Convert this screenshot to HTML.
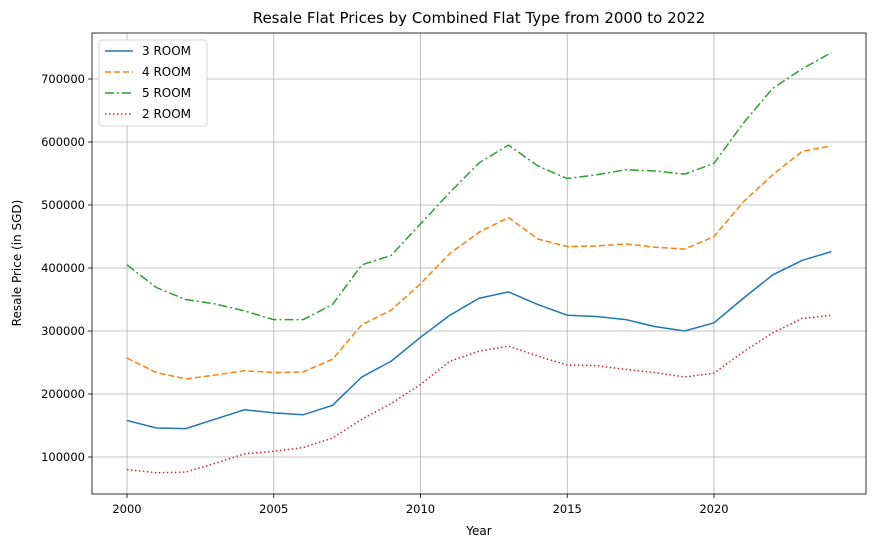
<!DOCTYPE html>
<html><head><meta charset="utf-8"><style>
body{margin:0;background:#fff;font-family:"Liberation Sans","DejaVu Sans",sans-serif;}
svg text{font-family:"DejaVu Sans","Liberation Sans",sans-serif;}
</style></head><body>
<svg id="chart" width="876" height="547" xmlns="http://www.w3.org/2000/svg">
<rect width="876" height="547" fill="#fff"/>
<g id="grid"></g>
<g id="series"></g>
<rect x="92" y="33" width="774" height="461" fill="none" stroke="#000" stroke-width="0.8"/>
<g id="ticks"></g>
<text x="479" y="23" text-anchor="middle" font-size="15">Resale Flat Prices by Combined Flat Type from 2000 to 2022</text>
<text x="479" y="535" text-anchor="middle" font-size="12">Year</text>
<text x="21" y="263" text-anchor="middle" font-size="12" transform="rotate(-90 21 263)">Resale Price (in SGD)</text>
<g id="legend"></g>
</svg>
<script>
const years=[2000,2001,2002,2003,2004,2005,2006,2007,2008,2009,2010,2011,2012,2013,2014,2015,2016,2017,2018,2019,2020,2021,2022,2023,2024];
const room3=[158,146,145,160,175,170,167,182,227,252,290,325,352,362,342,325,323,318,307,300,313,352,389,412,426];
const room4=[257,234,224,230,237,234,235,255,310,333,375,423,457,480,446,434,435,438,433,430,450,505,548,585,594];
const room5=[405,369,350,343,332,318,318,342,405,420,470,520,567,595,562,542,548,556,554,549,566,630,685,716,742];
const room2=[80,75,76,90,105,109,115,130,160,185,215,252,268,276,260,246,245,239,234,227,233,267,297,320,325];
const xTicks=[2000,2005,2010,2015,2020];
const yTicks=[100000,200000,300000,400000,500000,600000,700000];
const seriesNames=["3 ROOM","4 ROOM","5 ROOM","2 ROOM"];
const NS="http://www.w3.org/2000/svg";
function xs(y){return 127+(y-2000)*29.35;}
function ys(v){return 457-(v-100000)*0.00063;}
function mk(t,a,p){const e=document.createElementNS(NS,t);for(const k in a)e.setAttribute(k,a[k]);p.appendChild(e);return e;}
const grid=document.getElementById('grid'),ticks=document.getElementById('ticks'),ser=document.getElementById('series'),leg=document.getElementById('legend');
xTicks.forEach(t=>{const x=xs(t);
const g=mk('line',{x1:x,x2:x,y1:33,y2:494,stroke:'#b0b0b0','stroke-width':0.8},grid);


mk('line',{x1:x,x2:x,y1:494,y2:498,stroke:'#000','stroke-width':0.8},ticks);
const l=mk('text',{x:x,y:513,'text-anchor':'middle','font-size':11.5},ticks);l.textContent=t;

});
yTicks.forEach(t=>{const y=ys(t);
const g=mk('line',{x1:92,x2:866,y1:y,y2:y,stroke:'#b0b0b0','stroke-width':0.8},grid);


mk('line',{x1:88,x2:92,y1:y,y2:y,stroke:'#000','stroke-width':0.8},ticks);
const l=mk('text',{x:85,y:y+4,'text-anchor':'end','font-size':11.5},ticks);l.textContent=t;

});
const data=[room3,room4,room5,room2];
const colors=['#1f77b4','#ff7f0e','#2ca02c','#d62728'];
const dashes=['','6,3','9,3,2,3','1.5,2.5'];
const names=['line-3-room','line-4-room','line-5-room','line-2-room'];
data.forEach((d,i)=>{const pts=d.map((v,j)=>xs(years[j])+','+ys(v*1000)).join(' ');
const p=mk('polyline',{points:pts,fill:'none',stroke:colors[i],'stroke-width':1.5,'stroke-dasharray':dashes[i]},ser);

});
const box=mk('rect',{x:99,y:40,width:108,height:86,fill:'#fff',stroke:'#ccc','stroke-width':0.8,rx:3},leg);


seriesNames.forEach((n,i)=>{const y=51+i*21;
mk('line',{x1:105,x2:133,y1:y,y2:y,stroke:colors[i],'stroke-width':1.5,'stroke-dasharray':dashes[i]},leg);
const t=mk('text',{x:142,y:y+4,'font-size':12},leg);t.textContent=n;

});
</script>
</body></html>
